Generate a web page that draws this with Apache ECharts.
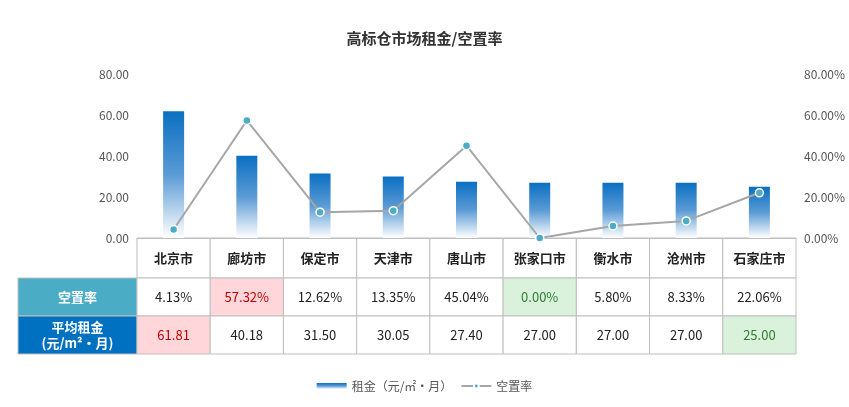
<!DOCTYPE html>
<html><head><meta charset="utf-8">
<script src="https://cdn.jsdelivr.net/npm/echarts@6/dist/echarts.min.js"></script>
<style>html,body{margin:0;padding:0;background:#fff}#c{width:849px;height:407px}</style>
</head><body><div id="c"></div>
<script>
var cities = ['北京市', '廊坊市', '保定市', '天津市', '唐山市', '张家口市', '衡水市', '沧州市', '石家庄市'];
var rent = [61.81, 40.18, 31.50, 30.05, 27.40, 27.00, 27.00, 27.00, 25.00];
var vacancy = [4.13, 57.32, 12.62, 13.35, 45.04, 0.00, 5.80, 8.33, 22.06];
var rentMax = 0, rentMin = 8, vacMax = 1, vacMin = 5;

var chart = echarts.init(document.getElementById('c'));
var font = '"Microsoft YaHei","Noto Sans CJK SC",sans-serif';
var L = 137, R = 796, T0 = 238, rowH = [40, 38, 38];
var colW = (R - L) / cities.length;
var g = [];
function cell(x, y, w, h, fill, text, color, bold, size) {
  g.push({type: 'rect', shape: {x: x, y: y, width: w, height: h},
    style: {fill: fill, stroke: '#bfbfbf', lineWidth: 1}});
  g.push({type: 'text', x: x + w / 2, y: y + h / 2,
    style: {text: text, fill: color, font: (bold ? 'bold ' : '') + (size || 13) + 'px ' + font,
      align: 'center', verticalAlign: 'middle', lineHeight: 16}});
}
var y1 = T0 + rowH[0], y2 = y1 + rowH[1];
cell(18, y1, L - 18, rowH[1], '#4bacc6', '空置率', '#fff', true);
cell(18, y2, L - 18, rowH[2], '#0070c0', '平均租金\n(元/m²•月)', '#fff', true);
cities.forEach(function (c, i) {
  var x = L + i * colW;
  cell(x, T0, colW, rowH[0], '#fff', c, '#222', true);
  cell(x, y1, colW, rowH[1], i === vacMax ? '#ffd7db' : (i === vacMin ? '#daf2dc' : '#fff'),
    vacancy[i].toFixed(2) + '%', i === vacMax ? '#c00000' : (i === vacMin ? '#2e7d32' : '#222'));
  cell(x, y2, colW, rowH[2], i === rentMax ? '#ffd7db' : (i === rentMin ? '#daf2dc' : '#fff'),
    rent[i].toFixed(2), i === rentMax ? '#c00000' : (i === rentMin ? '#2e7d32' : '#222'));
});

chart.setOption({
  animation: false,
  title: {text: '高标仓市场租金/空置率', left: 'center', top: 26,
    textStyle: {fontSize: 15, fontWeight: 'bold', color: '#333', fontFamily: font}},
  legend: {bottom: 10, itemWidth: 30, itemHeight: 6, textStyle: {fontSize: 12, color: '#555', fontFamily: font},
    data: [{name: '租金（元/㎡·月）', icon: 'rect'}, '空置率']},
  grid: {left: L, right: 849 - R, top: 74, bottom: 407 - T0},
  xAxis: {type: 'category', data: cities, axisLabel: {show: false}, axisTick: {show: false},
    axisLine: {lineStyle: {color: '#bfbfbf'}}},
  yAxis: [
    {type: 'value', min: 0, max: 80, interval: 20, splitLine: {show: false},
      axisLabel: {formatter: function (v) { return v.toFixed(2); }, color: '#555', fontSize: 12, fontFamily: font}},
    {type: 'value', min: 0, max: 80, interval: 20, splitLine: {show: false},
      axisLabel: {formatter: function (v) { return v.toFixed(2) + '%'; }, color: '#555', fontSize: 12, fontFamily: font}}
  ],
  series: [
    {name: '租金（元/㎡·月）', type: 'bar', data: rent, barWidth: 21,
      itemStyle: {color: new echarts.graphic.LinearGradient(0, 0, 0, 1, [
        {offset: 0, color: '#0a6fc2'}, {offset: 0.5, color: '#5b9bd5'}, {offset: 1, color: '#ffffff'}])}},
    {name: '空置率', type: 'line', yAxisIndex: 1, data: vacancy, symbol: 'circle', symbolSize: 8,
      lineStyle: {color: '#a6a6a6', width: 2},
      itemStyle: {color: '#4bacc6', borderColor: '#fff', borderWidth: 1.5}}
  ],
  graphic: g
});
</script></body></html>
